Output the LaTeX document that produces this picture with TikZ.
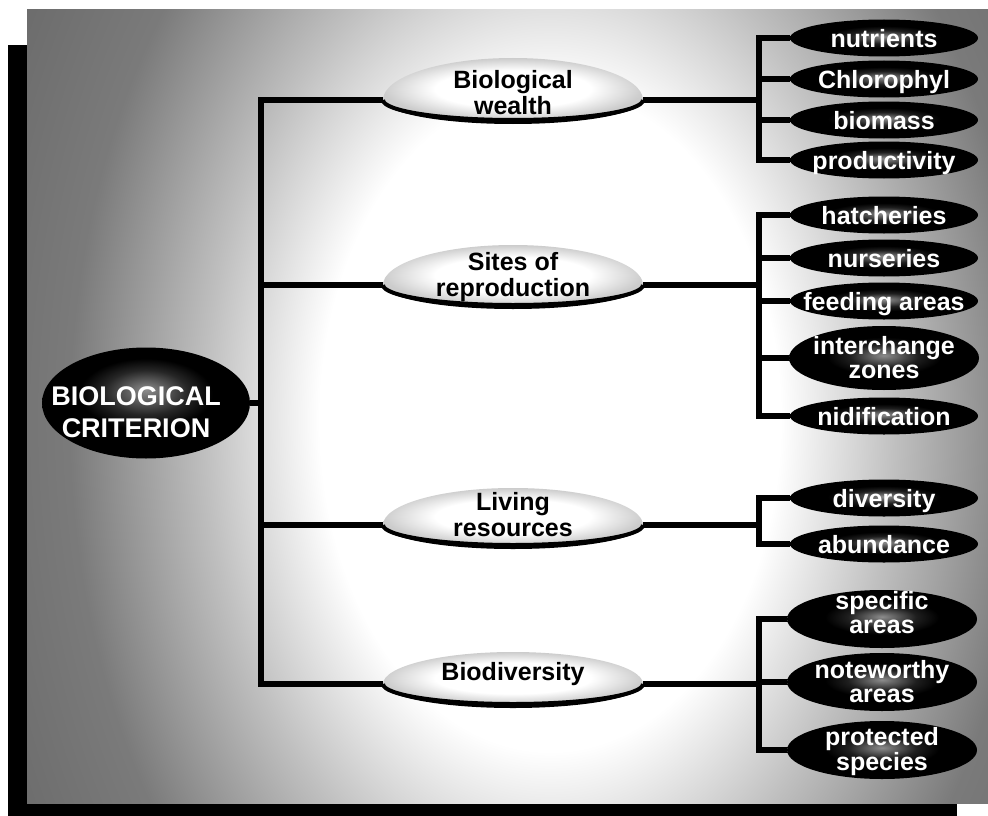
\documentclass[tikz,border=0pt]{standalone}
\usepackage{fontspec}
\setmainfont{Liberation Sans}
\usetikzlibrary{shapes.geometric}

\pgfdeclareradialshading{panelshade}{\pgfpointorigin}{color(0bp)=(white); color(6bp)=(white); color(9bp)=(black!25); color(12.5bp)=(black!52); color(18bp)=(black!62); color(50bp)=(black!62)}
\pgfdeclareradialshading{midshade}{\pgfpointorigin}{color(0bp)=(white); color(15bp)=(white); color(25bp)=(black!20); color(50bp)=(black!20)}
\pgfdeclareradialshading{leafshade}{\pgfpoint{0bp}{2bp}}{color(0bp)=(black!45); color(9bp)=(black!88); color(15bp)=(black); color(50bp)=(black)}
\pgfdeclareradialshading{rootshade}{\pgfpoint{0bp}{6bp}}{color(0bp)=(black!45); color(10bp)=(black!85); color(16bp)=(black); color(50bp)=(black)}

\newcommand\celltext[2]{\makebox[0pt]{\raisebox{#1}[0pt][0pt]{\begin{tabular}{@{}c@{}}#2\end{tabular}}}}

\newcommand\midcap[3]{%
  \begin{scope}[shift={(#1,#2)}]
    \shade[shading=midshade] (-130,0) .. controls (-130,-0.5523*#3) and (-71.8,-#3) .. (0,-#3)
      .. controls (71.8,-#3) and (130,-0.5523*#3) .. (130,0)
      .. controls (130,11) and (71.8,20) .. (0,20)
      .. controls (-71.8,20) and (-130,11) .. cycle;
    \fill[black] (-130,0) .. controls (-130,11) and (-71.8,20) .. (0,20)
      .. controls (71.8,20) and (130,11) .. (130,0)
      .. controls (130,13) and (71.8,24) .. (0,24)
      .. controls (-71.8,24) and (-130,13) .. cycle;
    \draw[line width=4pt] (-130,0) .. controls (-130,11) and (-71.8,20) .. (0,20)
      .. controls (71.8,20) and (130,11) .. (130,0);
  \end{scope}}

\tikzset{
  conn/.style={line width=6pt, black},
  leaf/.style={ellipse, shading=leafshade, minimum width=188pt, minimum height=37pt,
    inner sep=0pt, text=white, font=\bfseries\fontsize{25}{24}\selectfont},
  leaftwo/.style={leaf, minimum width=190pt, minimum height=58pt},
  mid/.style={rectangle, minimum width=260pt, minimum height=0pt, inner sep=0pt,
    text=black, font=\bfseries\fontsize{25}{26}\selectfont},
  rootnode/.style={ellipse, shading=rootshade, minimum width=208pt, minimum height=111pt,
    inner sep=0pt, text=white, font=\bfseries\fontsize{27}{32}\selectfont},
}

\begin{document}
\begin{tikzpicture}[x=1pt, y=-1pt]
\useasboundingbox (0,0) rectangle (988,816);
\fill[white] (0,0) rectangle (988,816);
% shadow and panel
\fill[black] (8,45) rectangle (957,816);
\begin{scope}
  \clip (27,10) rectangle (988,803);
  \shade[shading=panelshade] (550,420) ellipse [x radius=960pt, y radius=1380pt];
\end{scope}

% mid caps
\midcap{513}{100}{42}
\midcap{513}{285}{40}
\midcap{513}{525}{37}
\midcap{513}{684}{32}

% nodes
\node[rootnode] (root) at (146,403) {\makebox[0pt]{\hspace*{-20pt}\raisebox{-18pt}[0pt][0pt]{\begin{tabular}{@{}c@{}}BIOLOGICAL\\CRITERION\end{tabular}}}};

\node[mid] (w) at (513,100) {\celltext{-3pt}{Biological\\wealth}};
\node[mid] (s) at (513,285) {\celltext{0pt}{Sites of\\reproduction}};
\node[mid] (l) at (513,525) {\celltext{0pt}{Living\\resources}};
\node[mid] (b) at (513,684) {\celltext{2pt}{Biodiversity}};

\node[leaf] (n1) at (884,38) {\celltext{-10pt}{nutrients}};
\node[leaf] (n2) at (884,79) {\celltext{-10pt}{Chlorophyl}};
\node[leaf] (n3) at (884,120) {\celltext{-10pt}{biomass}};
\node[leaf] (n4) at (884,160) {\celltext{-10pt}{productivity}};

\node[leaf] (h1) at (884,215) {\celltext{-10pt}{hatcheries}};
\node[leaf] (h2) at (884,258) {\celltext{-10pt}{nurseries}};
\node[leaf] (h3) at (884,301) {\celltext{-10pt}{feeding areas}};
\node[leaftwo, minimum height=64pt] (h4) at (884,358) {\celltext{-9pt}{interchange\\zones}};
\node[leaf] (h5) at (884,416) {\celltext{-10pt}{nidification}};

\node[leaf] (d1) at (884,498) {\celltext{-10pt}{diversity}};
\node[leaf] (d2) at (884,544) {\celltext{-10pt}{abundance}};

\node[leaftwo] (p1) at (882,619) {\celltext{-3pt}{specific\\areas}};
\node[leaftwo] (p2) at (882,682) {\celltext{-9pt}{noteworthy\\areas}};
\node[leaftwo] (p3) at (882,750) {\celltext{-9pt}{protected\\species}};

% trunk coordinates
\coordinate (tr) at (261,0);
\coordinate (rt) at (759,0);

% left trunk
\draw[conn] (root.east) -- (root.east -| tr);
\draw[conn] (w.west) -- (w.west -| tr) -- (b.west -| tr) -- (b.west);
\draw[conn] (s.west) -- (s.west -| tr);
\draw[conn] (l.west) -- (l.west -| tr);

% group 1
\draw[conn] (w.east) -- (w.east -| rt);
\draw[conn] (n1.west) -- (n1.west -| rt) -- (n4.west -| rt) -- (n4.west);
\draw[conn] (n2.west) -- (n2.west -| rt);
\draw[conn] (n3.west) -- (n3.west -| rt);

% group 2
\draw[conn] (s.east) -- (s.east -| rt);
\draw[conn] (h1.west) -- (h1.west -| rt) -- (h5.west -| rt) -- (h5.west);
\draw[conn] (h2.west) -- (h2.west -| rt);
\draw[conn] (h3.west) -- (h3.west -| rt);
\draw[conn] (h4.west) -- (h4.west -| rt);

% group 3
\draw[conn] (l.east) -- (l.east -| rt);
\draw[conn] (d1.west) -- (d1.west -| rt) -- (d2.west -| rt) -- (d2.west);

% group 4
\draw[conn] (b.east) -- (b.east -| rt);
\draw[conn] (p1.west) -- (p1.west -| rt) -- (p3.west -| rt) -- (p3.west);
\draw[conn] (p2.west) -- (p2.west -| rt);
\end{tikzpicture}
\end{document}
